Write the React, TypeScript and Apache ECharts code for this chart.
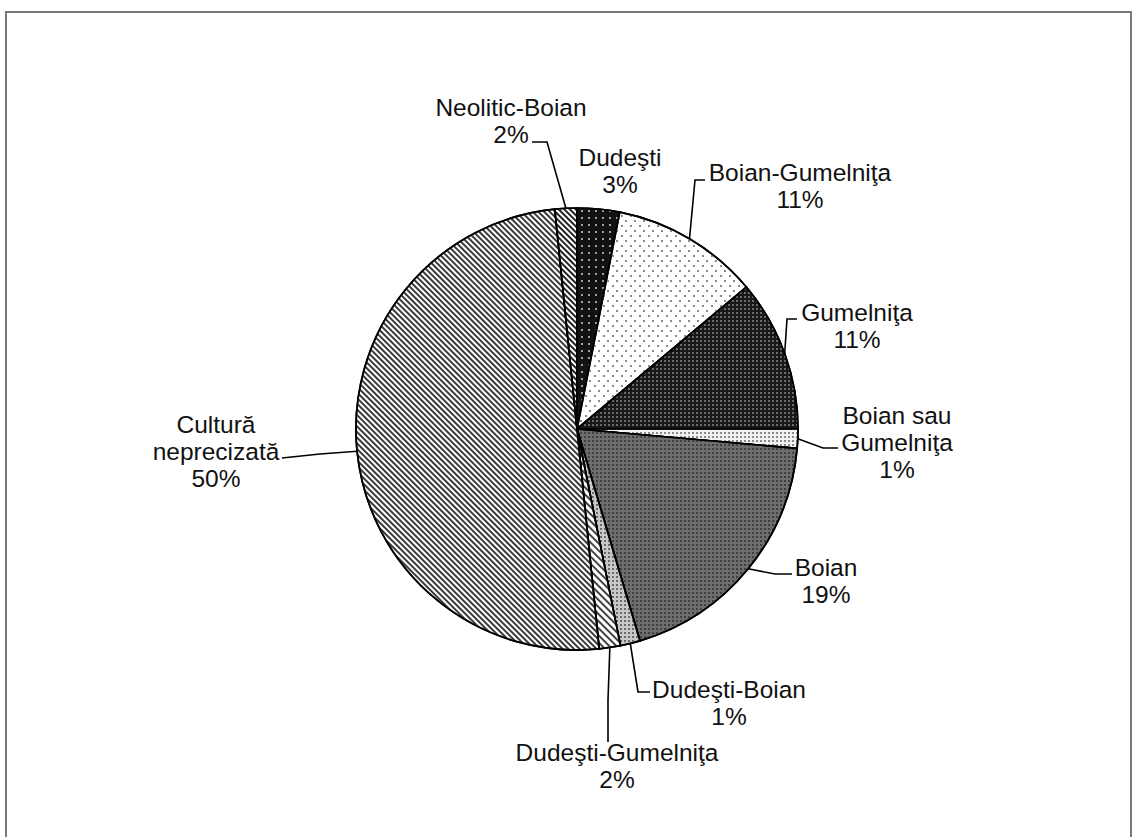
import React, { useEffect, useRef } from 'react';
import * as echarts from 'echarts';

// ---- data ----
const categories = [
  'Dudeşti',
  'Boian-Gumelniţa',
  'Gumelniţa',
  'Boian sau Gumelniţa',
  'Boian',
  'Dudeşti-Boian',
  'Dudeşti-Gumelniţa',
  'Cultură neprecizată',
  'Neolitic-Boian',
];
const labelText = [
  'Dudeşti',
  'Boian-Gumelniţa',
  'Gumelniţa',
  'Boian sau\nGumelniţa',
  'Boian',
  'Dudeşti-Boian',
  'Dudeşti-Gumelniţa',
  'Cultură\nneprecizată',
  'Neolitic-Boian',
];
const shares = [3.1, 10.8, 11.1, 1.4, 19.0, 1.45, 1.55, 50.0, 1.6];

// ---- layout (positions, not data) ----
type Pt = [number, number];
const labelAnchor: Pt[] = [
  [620, 171],
  [800, 186],
  [857, 326],
  [897, 442],
  [826, 581],
  [729, 703],
  [617, 766],
  [216, 451],
  [511, 121],
];
const lineBends: (Pt[] | null)[] = [
  null,
  [[695, 180], [705, 180]],
  [[787, 319], [797, 319]],
  [[823, 448], [838, 448]],
  [[775, 574], [792, 574]],
  [[638, 692], [650, 692]],
  [[608, 700], [608, 742]],
  [[320, 454], [282, 458]],
  [[547, 142], [532, 142]],
];

const D = Math.PI / 4;
const fills: any[] = [
  { color: '#121212', decal: { symbol: 'rect', symbolSize: 1, dashArrayX: [1.5, 4.5], dashArrayY: [1.5, 4.5], color: '#a0a0a0' } },
  { color: '#ffffff', decal: { symbol: 'rect', symbolSize: 1, dashArrayX: [[1.5, 6.5], [0, 4, 1.5, 2.5]], dashArrayY: [1.5, 2.5], color: '#8a8a8a' } },
  { color: '#181818', decal: { symbol: 'rect', symbolSize: 1, dashArrayX: [1.2, 2], dashArrayY: [1.2, 2], color: '#6a6a6a' } },
  { color: '#f2f2f2', decal: { symbol: 'rect', symbolSize: 1, dashArrayX: [1.5, 1.5], dashArrayY: [1.5, 1.5], color: '#8a8a8a' } },
  { color: '#6e6e6e', decal: { symbol: 'rect', symbolSize: 1, dashArrayX: [1.5, 1.5], dashArrayY: [1.5, 1.5], color: '#404040' } },
  { color: '#c8c8c8', decal: { symbol: 'rect', symbolSize: 1, dashArrayX: [1.5, 1.5], dashArrayY: [1.5, 1.5], color: '#6a6a6a' } },
  { color: '#ffffff', decal: { symbol: 'rect', symbolSize: 1, dashArrayX: [1, 0], dashArrayY: [1.6, 2.4], rotation: D, color: '#444444' } },
  { color: '#ffffff', decal: { symbol: 'rect', symbolSize: 1, dashArrayX: [1, 0], dashArrayY: [1.6, 1.4], rotation: D, color: '#3a3a3a' } },
  { color: '#ffffff', decal: { symbol: 'rect', symbolSize: 1, dashArrayX: [1, 0], dashArrayY: [2, 1.8], rotation: D, color: '#222222' } },
];

const FONT = "'Liberation Sans', Arial, Helvetica, sans-serif";

export default function App() {
  const ref = useRef<HTMLDivElement>(null);
  useEffect(() => {
    const chart = echarts.init(ref.current!, null, { renderer: 'svg' });
    const data = categories.map((name, i) => ({
      name,
      value: shares[i],
      itemStyle: { color: fills[i].color, decal: fills[i].decal },
      labelLine: { show: lineBends[i] !== null },
    }));
    chart.setOption({
      animation: false,
      backgroundColor: '#ffffff',
      graphic: [
        {
          type: 'rect',
          silent: true,
          shape: { x: 6, y: 12, width: 1125, height: 900 },
          style: { fill: 'none', stroke: '#777777', lineWidth: 2 },
        },
      ],
      series: [
        {
          type: 'pie',
          center: [577, 429],
          radius: 221,
          startAngle: 90,
          clockwise: true,
          avoidLabelOverlap: false,
          emphasis: { disabled: true },
          data,
          itemStyle: { borderColor: '#000000', borderWidth: 1.7 },
          label: {
            show: true,
            position: 'outside',
            fontFamily: FONT,
            fontSize: 24.5,
            lineHeight: 27,
            color: '#111111',
            align: 'center',
            formatter: (p: any) => `${labelText[p.dataIndex]}\n${Math.round(p.percent)}%`,
          },
          labelLine: {
            show: true,
            length: 10,
            length2: 10,
            lineStyle: { color: '#000000', width: 1.6 },
          },
          labelLayout: (p: any) => {
            const i = p.dataIndex;
            const [x, y] = labelAnchor[i];
            const res: any = { x, y, align: 'center', verticalAlign: 'middle', hideOverlap: false };
            const bends = lineBends[i];
            if (bends && p.labelLinePoints) {
              res.labelLinePoints = [p.labelLinePoints[0], ...bends];
            }
            return res;
          },
        },
      ],
    });
    return () => chart.dispose();
  }, []);
  return <div ref={ref} style={{ position: 'fixed', left: 0, top: 0, width: 1137, height: 837 }} />;
}
